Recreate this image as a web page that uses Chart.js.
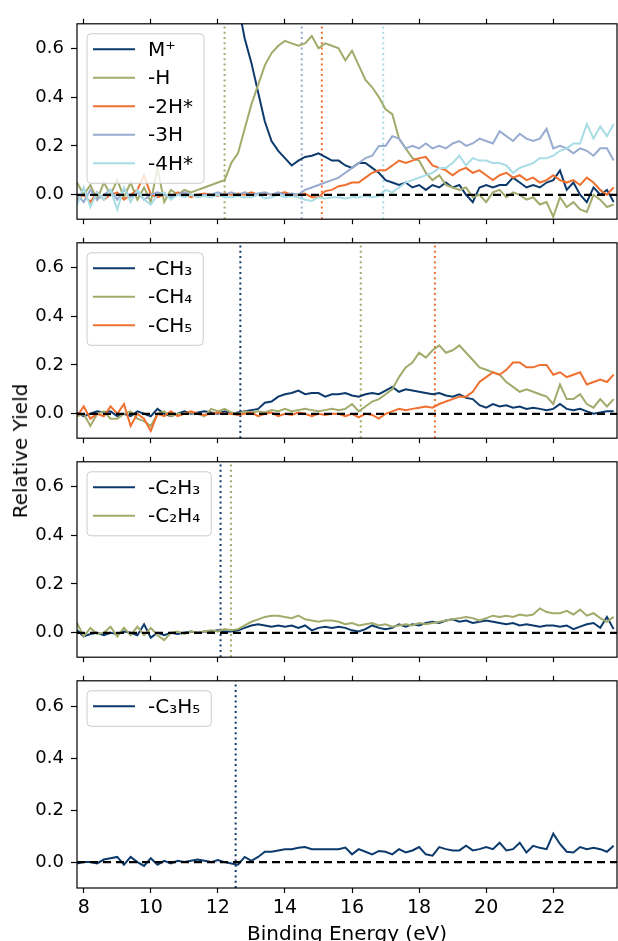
<!DOCTYPE html>
<html>
<head>
<meta charset="utf-8">
<script src="https://cdn.jsdelivr.net/npm/chart.js@4.4.0/dist/chart.umd.min.js"></script>
<style>
  body { margin: 0; background: #fff; width: 618px; height: 941px; overflow: hidden; position: relative; font-family: "DejaVu Sans", sans-serif; }
  canvas { position: absolute; left: 0; }
  #ylab { position: absolute; left: 20px; top: 451px; transform: translate(-50%, -50%) rotate(-90deg); font-size: 20px; white-space: nowrap; color: #000; }
</style>
</head>
<body>
<canvas id="p1" width="618" height="231" style="top:6px"></canvas>
<canvas id="p2" width="618" height="231" style="top:225px"></canvas>
<canvas id="p3" width="618" height="231" style="top:444px"></canvas>
<canvas id="p4" width="618" height="284" style="top:663px"></canvas>
<div id="ylab">Relative Yield</div>
<script>
// binding energy grid (eV)
const energy = [
  7.8, 8.0, 8.2, 8.4, 8.6, 8.8, 9.0, 9.2, 9.4, 9.6,
  9.8, 10.0, 10.2, 10.4, 10.6, 10.8, 11.0, 11.2, 11.4, 11.6,
  11.8, 12.0, 12.2, 12.4, 12.6, 12.8, 13.0, 13.2, 13.4, 13.6,
  13.8, 14.0, 14.2, 14.4, 14.6, 14.8, 15.0, 15.2, 15.4, 15.6,
  15.8, 16.0, 16.2, 16.4, 16.6, 16.8, 17.0, 17.2, 17.4, 17.6,
  17.8, 18.0, 18.2, 18.4, 18.6, 18.8, 19.0, 19.2, 19.4, 19.6,
  19.8, 20.0, 20.2, 20.4, 20.6, 20.8, 21.0, 21.2, 21.4, 21.6,
  21.8, 22.0, 22.2, 22.4, 22.6, 22.8, 23.0, 23.2, 23.4, 23.6, 23.8
]

const mPlus = [
  1.00, 1.00, 0.99, 1.00, 1.01, 0.99, 1.00, 1.00, 0.99, 1.01,
  1.00, 0.99, 1.00, 1.00, 0.99, 1.00, 1.00, 0.99, 1.00, 0.99,
  0.98, 0.99, 0.97, 0.95, 0.78, 0.64, 0.54, 0.42, 0.30, 0.22,
  0.18, 0.15, 0.12, 0.14, 0.155, 0.16, 0.17, 0.155, 0.14, 0.14,
  0.12, 0.11, 0.13, 0.13, 0.11, 0.09, 0.06, 0.05, 0.04, 0.05,
  0.03, 0.04, 0.02, 0.04, 0.03, 0.05, 0.03, 0.04, 0.0, -0.03,
  0.03, 0.04, 0.03, 0.04, 0.04, 0.07, 0.05, 0.03, 0.04, 0.03,
  0.05, 0.06, 0.10, 0.02, 0.05, 0.0, -0.03, 0.03, 0.0, 0.02, -0.03
]
const lossH = [
  0.05, 0.0, 0.04, -0.02, 0.05, 0.0, 0.06, -0.01, 0.05, -0.02,
  0.03, -0.03, 0.11, -0.03, 0.02, 0.0, 0.02, 0.01, 0.02, 0.03,
  0.04, 0.05, 0.06, 0.13, 0.17, 0.27, 0.37, 0.45, 0.53, 0.58,
  0.61, 0.63, 0.62, 0.61, 0.62, 0.65, 0.60, 0.62, 0.61, 0.60,
  0.55, 0.59, 0.53, 0.47, 0.44, 0.40, 0.35, 0.33, 0.23, 0.19,
  0.15, 0.14, 0.09, 0.06, 0.08, 0.04, 0.03, 0.02, 0.03, -0.01,
  0.0, -0.03, 0.01, 0.02, -0.01, 0.01, 0.0, -0.02, -0.01, -0.04,
  -0.03, -0.09, -0.01, -0.05, -0.03, -0.06, -0.07, 0.0, -0.02, -0.05, -0.04
]
const loss2H = [
  -0.02, 0.0, -0.03, 0.01, -0.02, 0.0, 0.01, -0.02, 0.0, 0.02,
  0.08, 0.0, -0.01, 0.0, -0.01, 0.01, 0.0, -0.01, 0.0, 0.005,
  0.0, -0.005, 0.005, 0.0, 0.005, 0.0, 0.01, 0.0, 0.005, 0.0,
  0.005, 0.01, 0.0, 0.0, 0.005, -0.01, -0.01, 0.015, 0.02, 0.035,
  0.04, 0.05, 0.05, 0.07, 0.09, 0.10, 0.10, 0.12, 0.14, 0.13,
  0.14, 0.15, 0.155, 0.12, 0.11, 0.10, 0.08, 0.10, 0.11, 0.09,
  0.10, 0.08, 0.06, 0.08, 0.09, 0.07, 0.08, 0.06, 0.07, 0.05,
  0.06, 0.08, 0.06, 0.05, 0.06, 0.04, 0.07, 0.05, 0.02, 0.0, 0.03
]
const loss3H = [
  0.0, -0.03, 0.02, -0.02, 0.0, 0.02, -0.02, 0.02, -0.01, 0.01,
  -0.02, 0.0, 0.01, 0.0, -0.01, 0.0, 0.01, 0.0, -0.01, 0.0,
  0.0, 0.01, 0.0, 0.01, 0.0, 0.01, 0.0, 0.005, 0.01, 0.0,
  0.01, 0.0, 0.005, 0.0, 0.02, 0.03, 0.04, 0.05, 0.06, 0.07,
  0.09, 0.11, 0.13, 0.15, 0.16, 0.20, 0.20, 0.24, 0.23, 0.19,
  0.20, 0.19, 0.21, 0.19, 0.20, 0.19, 0.21, 0.22, 0.20, 0.21,
  0.23, 0.22, 0.21, 0.26, 0.24, 0.22, 0.25, 0.23, 0.22, 0.23,
  0.27, 0.19, 0.20, 0.19, 0.17, 0.19, 0.18, 0.16, 0.19, 0.19, 0.14
]
const loss4H = [
  -0.04, 0.03, -0.05, 0.01, -0.02, 0.02, -0.06, 0.03, -0.03, 0.02,
  -0.02, -0.04, 0.0, 0.01, -0.02, 0.0, -0.01, 0.0, -0.01, -0.005,
  -0.01, 0.0, -0.01, -0.01, -0.005, -0.01, -0.01, 0.0, -0.015, -0.01,
  0.0, -0.01, -0.005, -0.01, -0.02, -0.025, -0.01, -0.015, -0.01, -0.01,
  -0.015, -0.01, -0.01, -0.005, -0.01, -0.005, 0.02, 0.01, 0.03, 0.05,
  0.06, 0.07, 0.08, 0.09, 0.11, 0.11, 0.13, 0.16, 0.12, 0.15,
  0.14, 0.14, 0.13, 0.13, 0.12, 0.09, 0.11, 0.12, 0.13, 0.15,
  0.15, 0.16, 0.18, 0.19, 0.21, 0.21, 0.29, 0.23, 0.28, 0.24, 0.29
]
const lossCH3 = [
  0.005, -0.01, 0.0, 0.01, 0.005, 0.01, -0.01, 0.0, -0.01, 0.01,
  0.0, -0.01, 0.02, 0.0, -0.01, 0.0, 0.01, 0.0, 0.005, 0.01,
  0.005, 0.0, 0.01, 0.0, 0.005, 0.01, 0.015, 0.02, 0.045, 0.05,
  0.07, 0.08, 0.085, 0.095, 0.08, 0.085, 0.085, 0.07, 0.08, 0.08,
  0.085, 0.075, 0.07, 0.08, 0.085, 0.08, 0.095, 0.11, 0.09, 0.10,
  0.095, 0.09, 0.085, 0.08, 0.085, 0.075, 0.07, 0.08, 0.065, 0.06,
  0.035, 0.025, 0.04, 0.03, 0.035, 0.025, 0.03, 0.02, 0.025, 0.02,
  0.015, 0.02, 0.04, 0.02, 0.015, 0.02, 0.01, 0.0, 0.005, 0.01, 0.01
]
const lossCH4 = [
  -0.01, 0.0, -0.05, 0.0, 0.01, -0.02, -0.02, 0.0, 0.01, -0.02,
  -0.03, -0.05, 0.0, 0.01, -0.01, 0.0, 0.0, 0.005, 0.0, -0.01,
  0.02, 0.01, 0.02, 0.005, 0.0, 0.01, 0.005, 0.01, 0.005, 0.015,
  0.01, 0.02, 0.01, 0.015, 0.02, 0.015, 0.01, 0.015, 0.02, 0.015,
  0.02, 0.04, 0.01, 0.03, 0.05, 0.06, 0.08, 0.10, 0.15, 0.19,
  0.21, 0.25, 0.23, 0.26, 0.28, 0.25, 0.26, 0.28, 0.25, 0.22,
  0.19, 0.18, 0.17, 0.16, 0.13, 0.11, 0.09, 0.10, 0.09, 0.08,
  0.07, 0.04, 0.12, 0.06, 0.06, 0.08, 0.04, 0.025, 0.06, 0.03, 0.06
]
const lossCH5 = [
  -0.01, 0.03, -0.02, 0.0, -0.01, 0.03, 0.0, 0.04, -0.05, 0.0,
  -0.02, -0.07, 0.0, -0.01, 0.01, -0.01, 0.0, 0.01, 0.0, -0.005,
  0.0, 0.005, 0.0, 0.0, -0.005, 0.0, 0.005, -0.01, 0.0, 0.005,
  -0.01, 0.0, -0.005, 0.005, 0.0, -0.01, 0.0, -0.005, 0.0, 0.0,
  -0.01, 0.0, -0.015, 0.0, -0.005, -0.02, 0.0, 0.01, 0.02, 0.015,
  0.02, 0.025, 0.03, 0.025, 0.04, 0.05, 0.06, 0.07, 0.07, 0.09,
  0.13, 0.15, 0.17, 0.16, 0.18, 0.21, 0.21, 0.19, 0.19, 0.20,
  0.20, 0.16, 0.17, 0.15, 0.16, 0.17, 0.12, 0.13, 0.14, 0.13, 0.16
]
const lossC2H3 = [
  0.01, -0.015, -0.005, 0.0, -0.01, 0.0, -0.005, 0.005, 0.0, -0.01,
  0.035, -0.02, 0.0, -0.01, 0.0, -0.005, 0.0, 0.005, 0.0, 0.005,
  0.005, 0.01, 0.005, 0.005, 0.01, 0.02, 0.03, 0.035, 0.03, 0.025,
  0.03, 0.025, 0.03, 0.02, 0.03, 0.01, 0.02, 0.025, 0.02, 0.025,
  0.02, 0.01, 0.005, 0.015, 0.03, 0.02, 0.015, 0.02, 0.035, 0.025,
  0.035, 0.03, 0.04, 0.045, 0.04, 0.05, 0.055, 0.045, 0.05, 0.04,
  0.045, 0.05, 0.045, 0.04, 0.035, 0.04, 0.03, 0.035, 0.03, 0.025,
  0.03, 0.03, 0.025, 0.03, 0.015, 0.025, 0.035, 0.04, 0.02, 0.065, 0.015
]
const lossC2H4 = [
  0.04, -0.015, 0.02, -0.005, 0.0, 0.025, -0.015, 0.02, -0.01, 0.025,
  -0.01, 0.02, -0.01, -0.03, 0.0, 0.005, -0.005, 0.005, 0.0, 0.005,
  0.01, 0.005, 0.015, 0.01, 0.015, 0.03, 0.045, 0.055, 0.065, 0.07,
  0.07, 0.065, 0.06, 0.07, 0.055, 0.05, 0.045, 0.05, 0.05, 0.045,
  0.035, 0.04, 0.03, 0.035, 0.04, 0.03, 0.035, 0.025, 0.03, 0.035,
  0.03, 0.04, 0.035, 0.04, 0.045, 0.05, 0.055, 0.06, 0.065, 0.06,
  0.05, 0.06, 0.07, 0.065, 0.07, 0.065, 0.075, 0.07, 0.075, 0.10,
  0.085, 0.08, 0.08, 0.09, 0.075, 0.095, 0.07, 0.08, 0.06, 0.045, 0.065
]
const lossC3H5 = [
  -0.005, 0.0, 0.0, -0.005, 0.01, 0.015, 0.02, -0.01, 0.02, 0.0,
  -0.015, 0.015, -0.01, 0.005, -0.005, 0.005, 0.0, 0.005, 0.01, 0.005,
  0.0, 0.008, 0.0, -0.005, -0.01, 0.02, 0.005, 0.02, 0.04, 0.04,
  0.045, 0.05, 0.05, 0.055, 0.058, 0.05, 0.05, 0.05, 0.05, 0.05,
  0.056, 0.03, 0.05, 0.04, 0.03, 0.043, 0.04, 0.03, 0.05, 0.037,
  0.045, 0.058, 0.03, 0.025, 0.058, 0.05, 0.045, 0.045, 0.063, 0.045,
  0.05, 0.058, 0.05, 0.075, 0.045, 0.05, 0.075, 0.037, 0.063, 0.055,
  0.05, 0.11, 0.07, 0.04, 0.037, 0.058, 0.05, 0.055, 0.05, 0.04, 0.063
]

// appearance energies (dotted lines), eV
const onsetH = 12.2, onset2H = 15.1, onset3H = 14.5, onset4H = 16.93
const onsetCH3 = 12.67, onsetCH4 = 16.26, onsetCH5 = 18.47
const onsetC2H3 = 12.08, onsetC2H4 = 12.39
const onsetC3H5 = 12.53

const xTicks = [8, 10, 12, 14, 16, 18, 20, 22]
const yTicks = [0.0, 0.2, 0.4, 0.6]
const xMin = 7.8, xMax = 23.9
const yMin = -0.1, yMax = 0.7

const navy = "#0c3a6c", olive = "#a2ab6b", orange = "#f07030", greyblue = "#97acd0", cyan = "#a8dde5"

Chart.defaults.font.family = "'DejaVu Sans', sans-serif"
Chart.defaults.font.size = 18
Chart.defaults.color = "#000"

const frame = {
  id: "frame",
  afterDatasetsDraw(chart) {
    const a = chart.chartArea, c = chart.ctx
    c.save()
    c.strokeStyle = "#000"
    c.lineWidth = 1.2
    c.strokeRect(a.left, a.top, a.right - a.left, a.bottom - a.top)
    c.restore()
  }
}

const boxLegend = {
  id: "boxLegend",
  afterDraw(chart) {
    const items = chart.data.datasets.filter(d => d.inLegend)
    const a = chart.chartArea, c = chart.ctx
    c.save()
    c.font = "20px 'DejaVu Sans'"
    let tw = 0
    items.forEach(d => { tw = Math.max(tw, c.measureText(d.label).width) })
    const x = a.left + 10, y = a.top + 10
    const w = 6 + 42 + 13 + tw + 11, h = items.length * 28.5 + 7
    c.beginPath()
    c.roundRect(x, y, w, h, 4)
    c.fillStyle = "rgba(255,255,255,0.8)"
    c.fill()
    c.strokeStyle = "#cccccc"
    c.lineWidth = 1
    c.stroke()
    items.forEach((d, i) => {
      const cy = y + 15.5 + i * 28.5
      c.beginPath()
      c.moveTo(x + 6, cy)
      c.lineTo(x + 48, cy)
      c.strokeStyle = d.borderColor
      c.lineWidth = 2
      c.stroke()
      c.fillStyle = "#000"
      c.textBaseline = "middle"
      c.fillText(d.label, x + 61, cy + 1)
    })
    c.restore()
  }
}

function xy(vals) {
  return energy.map((e, i) => ({ x: e, y: vals[i] }))
}

function makePanel(id, series, last) {
  const datasets = []
  series.forEach((s, i) => {
    datasets.push({
      label: s.label, data: xy(s.values), borderColor: s.color, borderWidth: 2,
      pointRadius: 0, inLegend: true, order: 10 - i
    })
  })
  series.forEach(s => {
    if (s.onset == null) return
    datasets.push({
      data: [{ x: s.onset, y: yMin }, { x: s.onset, y: yMax }],
      borderColor: s.color, borderWidth: 2, borderDash: [2, 3.3], pointRadius: 0, order: 50
    })
  })
  datasets.push({
    data: [{ x: xMin, y: 0 }, { x: xMax, y: 0 }],
    borderColor: "#000", borderWidth: 2.2, borderDash: [8, 5], pointRadius: 0, order: 0
  })

  const canvas = document.getElementById(id)
  const bottomH = canvas.height - 6 - 219

  new Chart(canvas, {
    type: "line",
    data: { datasets },
    options: {
      responsive: false,
      animation: false,
      layout: { padding: { left: 0, right: 1, top: 0, bottom: 0 } },
      plugins: { legend: { display: false }, tooltip: { enabled: false } },
      scales: {
        x: {
          type: "linear", position: "bottom", min: xMin, max: xMax,
          afterBuildTicks: ax => { ax.ticks = xTicks.map(v => ({ value: v })) },
          afterFit: ax => { ax.height = bottomH },
          border: { display: false },
          grid: { drawOnChartArea: false, drawTicks: true, tickLength: 5, color: "#000", tickColor: "#000", tickWidth: 1.2 },
          ticks: { display: last, padding: 4, maxRotation: 0, callback: v => v, font: { size: 19 } },
          title: { display: last, text: "Binding Energy (eV)", font: { size: 20 }, padding: { top: 0, bottom: 0 } }
        },
        xTop: {
          type: "linear", position: "top", min: xMin, max: xMax,
          afterBuildTicks: ax => { ax.ticks = xTicks.map(v => ({ value: v })) },
          afterFit: ax => { ax.height = 6 },
          border: { display: false },
          grid: { drawOnChartArea: false, drawTicks: true, tickLength: 5, color: "#000", tickColor: "#000", tickWidth: 1.2 },
          ticks: { display: false }
        },
        y: {
          type: "linear", min: yMin, max: yMax,
          afterBuildTicks: ax => { ax.ticks = yTicks.map(v => ({ value: v })) },
          afterFit: ax => { ax.width = 77 },
          border: { display: false },
          grid: { drawOnChartArea: false, drawTicks: true, tickLength: 6, color: "#000", tickColor: "#000", tickWidth: 1.2 },
          ticks: { padding: 7, callback: v => Number(v).toFixed(1), font: { size: 18 } }
        }
      }
    },
    plugins: [frame, boxLegend]
  })
}

makePanel("p1", [
  { label: "M\u207A", color: navy, values: mPlus, onset: null },
  { label: "-H", color: olive, values: lossH, onset: onsetH },
  { label: "-2H*", color: orange, values: loss2H, onset: onset2H },
  { label: "-3H", color: greyblue, values: loss3H, onset: onset3H },
  { label: "-4H*", color: cyan, values: loss4H, onset: onset4H }
], false)

makePanel("p2", [
  { label: "-CH\u2083", color: navy, values: lossCH3, onset: onsetCH3 },
  { label: "-CH\u2084", color: olive, values: lossCH4, onset: onsetCH4 },
  { label: "-CH\u2085", color: orange, values: lossCH5, onset: onsetCH5 }
], false)

makePanel("p3", [
  { label: "-C\u2082H\u2083", color: navy, values: lossC2H3, onset: onsetC2H3 },
  { label: "-C\u2082H\u2084", color: olive, values: lossC2H4, onset: onsetC2H4 }
], false)

makePanel("p4", [
  { label: "-C\u2083H\u2085", color: navy, values: lossC3H5, onset: onsetC3H5 }
], true)
</script>
</body>
</html>
